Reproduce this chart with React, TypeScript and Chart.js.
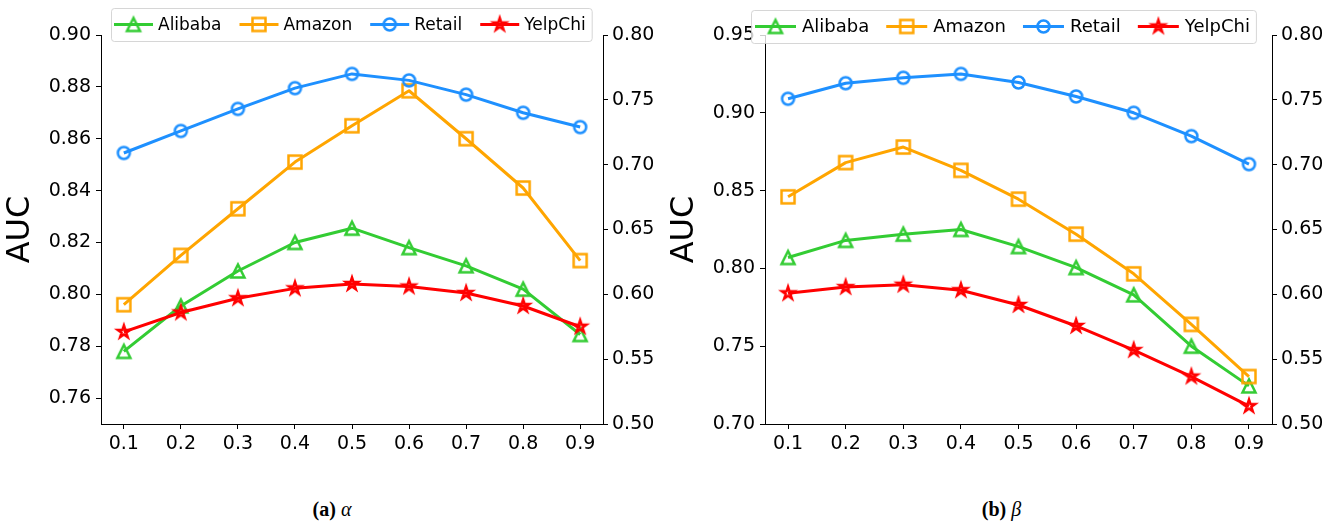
import React, { useEffect, useRef } from 'react';
import { Chart, registerables } from 'chart.js';

Chart.register(...registerables);

// ---------- data ----------
const xValues = [0.1, 0.2, 0.3, 0.4, 0.5, 0.6, 0.7, 0.8, 0.9];
const seriesNames = ['Alibaba', 'Amazon', 'Retail', 'YelpChi'];

const alphaAlibaba = [0.778, 0.7955, 0.809, 0.82, 0.8255, 0.818, 0.811, 0.802, 0.7845];
const alphaAmazon = [0.796, 0.815, 0.833, 0.851, 0.865, 0.8785, 0.86, 0.841, 0.813];
const alphaRetail = [0.8545, 0.863, 0.8715, 0.8795, 0.885, 0.8825, 0.877, 0.87, 0.8645];
const alphaYelpChi = [0.7855, 0.793, 0.7985, 0.8023, 0.804, 0.803, 0.8005, 0.7955, 0.7875];

const betaAlibaba = [0.807, 0.818, 0.822, 0.825, 0.814, 0.8005, 0.783, 0.75, 0.7245];
const betaAmazon = [0.846, 0.868, 0.878, 0.863, 0.8445, 0.822, 0.7965, 0.764, 0.7305];
const betaRetail = [0.909, 0.919, 0.9225, 0.925, 0.9195, 0.9105, 0.9, 0.885, 0.867];
const betaYelpChi = [0.784, 0.788, 0.7895, 0.786, 0.7765, 0.763, 0.7475, 0.7305, 0.7115];

const alphaLeftTicks = [0.76, 0.78, 0.8, 0.82, 0.84, 0.86, 0.88, 0.9];
const betaLeftTicks = [0.7, 0.75, 0.8, 0.85, 0.9, 0.95];
const rightTicks = [0.5, 0.55, 0.6, 0.65, 0.7, 0.75, 0.8];

// ---------- styles ----------
const FONT = '"DejaVu Sans", sans-serif';
const colors = ['#33cc33', '#ffa500', '#1e90ff', '#ff0000'];
const shapes = ['triangle', 'square', 'circle', 'star'];
const markerSizes = [13, 13, 12, 13];

function makeMarker(shape: string, color: string, size: number, lw: number) {
  const dim = Math.ceil(size + lw * 2 + 4);
  const c = document.createElement('canvas');
  c.width = dim;
  c.height = dim;
  const ctx = c.getContext('2d')!;
  const cx = dim / 2;
  const cy = dim / 2;
  const r = size / 2;
  ctx.strokeStyle = color;
  ctx.lineWidth = lw;
  ctx.lineJoin = 'miter';
  ctx.beginPath();
  if (shape === 'circle') {
    ctx.arc(cx, cy, r, 0, Math.PI * 2);
  } else if (shape === 'square') {
    ctx.rect(cx - r, cy - r, 2 * r, 2 * r);
  } else if (shape === 'triangle') {
    ctx.moveTo(cx, cy - r);
    ctx.lineTo(cx - r, cy + r);
    ctx.lineTo(cx + r, cy + r);
    ctx.closePath();
  } else {
    const inner = r * 0.381966;
    for (let i = 0; i < 10; i++) {
      const rad = (Math.PI / 5) * i;
      const rr = i % 2 === 0 ? r : inner;
      const px = cx + Math.sin(rad) * rr;
      const py = cy - Math.cos(rad) * rr;
      if (i === 0) ctx.moveTo(px, py);
      else ctx.lineTo(px, py);
    }
    ctx.closePath();
  }
  ctx.stroke();
  return c;
}

type LegendCfg = {
  left: number;
  top: number;
  height: number;
  fontSize: number;
  padLeft: number;
  padRight: number;
  handle: number;
  gap: number;
  colGap: number;
};

function makeLegendPlugin(cfg: LegendCfg) {
  return {
    id: 'boxLegend',
    afterDraw(chart: any) {
      const ctx: CanvasRenderingContext2D = chart.ctx;
      const ds = chart.data.datasets;
      ctx.save();
      ctx.font = `${cfg.fontSize}px ${FONT}`;
      const widths = ds.map((d: any) => ctx.measureText(d.label).width);
      const total =
        cfg.padLeft +
        ds.length * (cfg.handle + cfg.gap) +
        widths.reduce((a: number, b: number) => a + b, 0) +
        (ds.length - 1) * cfg.colGap +
        cfg.padRight;
      ctx.beginPath();
      if ((ctx as any).roundRect) (ctx as any).roundRect(cfg.left + 0.5, cfg.top + 0.5, total, cfg.height, 3);
      else ctx.rect(cfg.left + 0.5, cfg.top + 0.5, total, cfg.height);
      ctx.fillStyle = 'rgba(255,255,255,0.8)';
      ctx.fill();
      ctx.strokeStyle = 'rgba(204,204,204,0.8)';
      ctx.lineWidth = 1;
      ctx.stroke();
      let x = cfg.left + cfg.padLeft;
      const cy = cfg.top + cfg.height / 2;
      ds.forEach((d: any, i: number) => {
        ctx.strokeStyle = d.borderColor;
        ctx.lineWidth = 3;
        ctx.beginPath();
        ctx.moveTo(x, cy);
        ctx.lineTo(x + cfg.handle, cy);
        ctx.stroke();
        const m = d.pointStyle as HTMLCanvasElement;
        ctx.drawImage(m, x + cfg.handle / 2 - m.width / 2, cy - m.height / 2);
        x += cfg.handle + cfg.gap;
        ctx.fillStyle = '#000';
        ctx.textBaseline = 'middle';
        ctx.textAlign = 'left';
        ctx.fillText(d.label, x, cy + 1);
        x += widths[i] + cfg.colGap;
      });
      ctx.restore();
    },
  };
}

function buildChart(
  canvas: HTMLCanvasElement,
  series: number[][],
  leftMin: number,
  leftMax: number,
  leftTicks: number[],
  padRight: number,
  legend: LegendCfg
) {
  const tickFont = { family: FONT, size: 19 };
  const grid = { drawOnChartArea: false, drawTicks: true, tickLength: 5, color: '#000', lineWidth: 1 };
  const border = { display: true, color: '#000', width: 1 };
  const datasets = series.map((vals, i) => ({
    label: seriesNames[i],
    data: vals.map((v, j) => ({ x: xValues[j], y: v })),
    borderColor: colors[i],
    backgroundColor: colors[i],
    borderWidth: 3,
    borderJoinStyle: 'round' as const,
    pointStyle: makeMarker(shapes[i], colors[i], markerSizes[i], 2.5),
    pointRadius: 7,
    tension: 0,
    yAxisID: 'y',
    order: 3 - i,
  }));
  return new Chart(canvas, {
    type: 'line',
    data: { datasets },
    options: {
      animation: false,
      responsive: false,
      maintainAspectRatio: false,
      devicePixelRatio: 1,
      layout: { padding: { top: 35, bottom: 6, left: 0, right: padRight } },
      plugins: { legend: { display: false }, tooltip: { enabled: false } },
      scales: {
        x: {
          type: 'linear',
          min: 0.06,
          max: 0.94,
          afterBuildTicks: (s: any) => {
            s.ticks = xValues.map((v) => ({ value: v }));
          },
          afterFit: (s: any) => {
            s.height = 40;
          },
          ticks: {
            callback: (v: any) => Number(v).toFixed(1),
            font: tickFont,
            color: '#000',
            padding: 4,
            maxRotation: 0,
            autoSkip: false,
          },
          grid,
          border,
        },
        y: {
          position: 'left',
          min: leftMin,
          max: leftMax,
          afterBuildTicks: (s: any) => {
            s.ticks = leftTicks.map((v) => ({ value: v }));
          },
          afterFit: (s: any) => {
            s.width = 101;
          },
          ticks: {
            callback: (v: any) => Number(v).toFixed(2),
            font: tickFont,
            color: '#000',
            padding: 5,
          },
          title: {
            display: true,
            text: 'AUC',
            color: '#000',
            font: { family: FONT, size: 32, lineHeight: 1 },
            padding: { top: 5, bottom: 0 },
          },
          grid,
          border,
        },
        y1: {
          position: 'right',
          min: 0.5,
          max: 0.8,
          afterBuildTicks: (s: any) => {
            s.ticks = rightTicks.map((v) => ({ value: v }));
          },
          afterFit: (s: any) => {
            s.width = 50;
          },
          ticks: {
            callback: (v: any) => Number(v).toFixed(2),
            font: tickFont,
            color: '#000',
            padding: 4,
          },
          grid,
          border,
        },
      },
    },
    plugins: [makeLegendPlugin(legend)],
  } as any);
}

const W_A = 664;
const W_B = 675;
const H = 470;

export default function App() {
  const refA = useRef<HTMLCanvasElement>(null);
  const refB = useRef<HTMLCanvasElement>(null);

  useEffect(() => {
    const a = buildChart(
      refA.current!,
      [alphaAlibaba, alphaAmazon, alphaRetail, alphaYelpChi],
      0.75,
      0.9,
      alphaLeftTicks,
      W_A - 603 - 50,
      { left: 111, top: 8, height: 33, fontSize: 17, padLeft: 3, padRight: 6, handle: 39, gap: 5, colGap: 18 }
    );
    const b = buildChart(
      refB.current!,
      [betaAlibaba, betaAmazon, betaRetail, betaYelpChi],
      0.7,
      0.95,
      betaLeftTicks,
      W_B - 608 - 50,
      { left: 87, top: 10, height: 33, fontSize: 18, padLeft: 4, padRight: 6, handle: 41, gap: 6, colGap: 17 }
    );
    return () => {
      a.destroy();
      b.destroy();
    };
  }, []);

  const captionStyle: React.CSSProperties = {
    position: 'absolute',
    top: 497,
    height: 24,
    lineHeight: '24px',
    textAlign: 'center',
    fontFamily: '"Liberation Serif", "DejaVu Serif", serif',
    fontSize: 20,
    color: '#000',
  };

  return (
    <div
      style={{
        position: 'fixed',
        left: 0,
        top: 0,
        width: 1339,
        height: 527,
        background: '#fff',
        overflow: 'hidden',
      }}
    >
      <canvas
        ref={refA}
        width={W_A}
        height={H}
        style={{ position: 'absolute', left: 0, top: 0, width: W_A, height: H, display: 'block' }}
      />
      <canvas
        ref={refB}
        width={W_B}
        height={H}
        style={{ position: 'absolute', left: W_A, top: 0, width: W_B, height: H, display: 'block' }}
      />
      <div style={{ ...captionStyle, left: 0, width: W_A }}>
        <b>(a)</b> <i>α</i>
      </div>
      <div style={{ ...captionStyle, left: W_A, width: W_B }}>
        <b>(b)</b> <i>β</i>
      </div>
    </div>
  );
}
